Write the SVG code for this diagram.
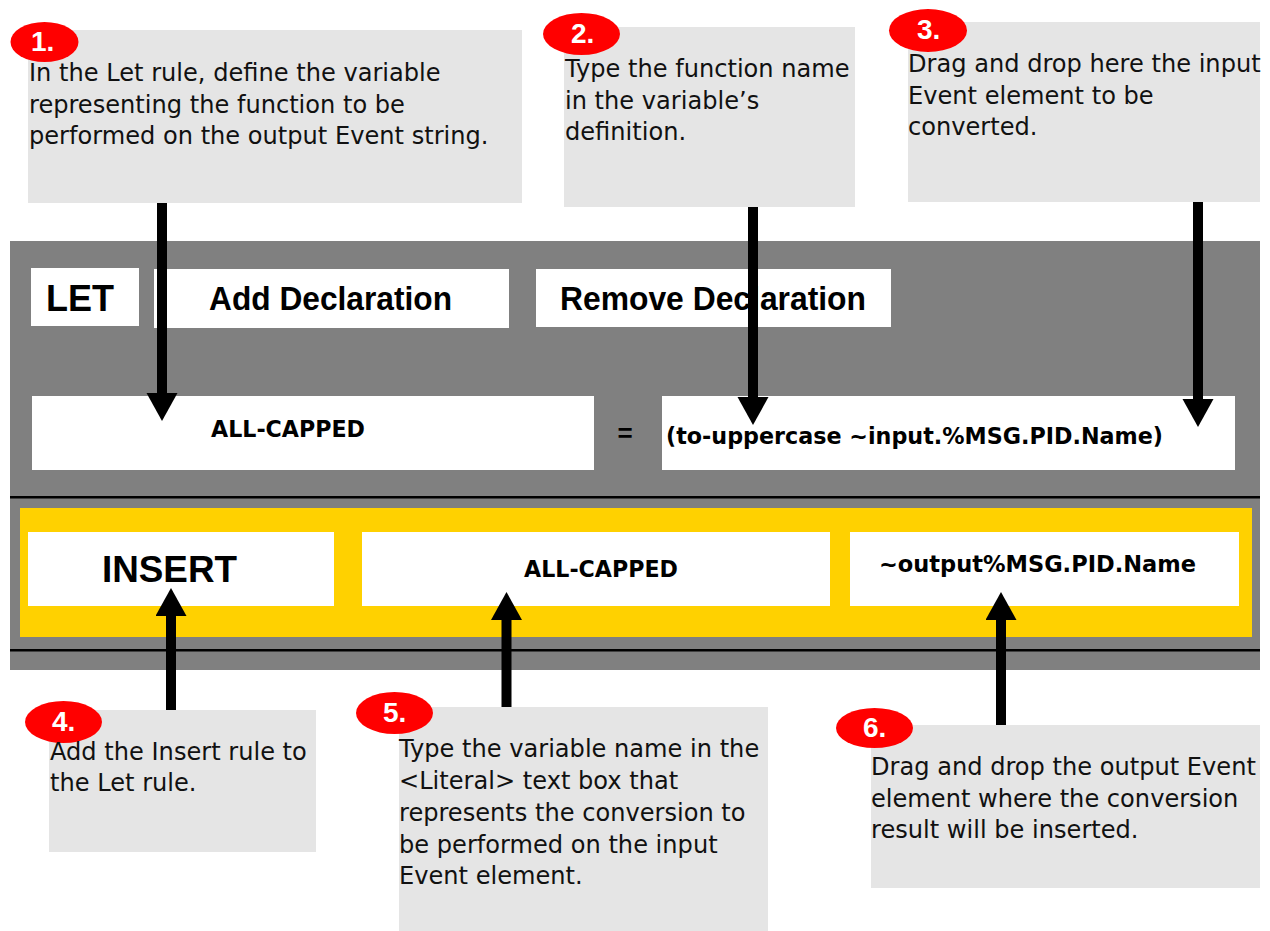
<svg xmlns="http://www.w3.org/2000/svg" width="1270" height="931" viewBox="0 0 1270 931">
<style>
.note{fill:#e5e5e5}
.badge{fill:#ff0000}
.num{font-family:"Liberation Sans",Arial,sans-serif;font-weight:bold;font-size:28px;fill:#ffffff}
.body{font-family:"DejaVu Sans","Noto Sans",sans-serif;font-size:24.1px;fill:#111111}
.ui{font-family:"Liberation Sans",Arial,sans-serif;font-weight:bold;fill:#000000}
.val{font-family:"DejaVu Sans","Noto Sans",sans-serif;font-weight:bold;font-size:23px;fill:#000000}
.white{fill:#ffffff}
.conn{stroke:#000000;stroke-width:10;fill:none;marker-end:url(#head)}
</style>
<defs>
<marker id="head" markerUnits="userSpaceOnUse" markerWidth="29" markerHeight="32" refX="0" refY="15.5" orient="auto" viewBox="0 0 29 32">
<path d="M0,0 L28,15.5 L0,31 z" fill="#000000"/>
</marker>
</defs>
<rect width="1270" height="931" fill="#ffffff"/>

<g id="let-panel">
<rect x="10" y="241" width="1250" height="429" fill="#808080"/>
<rect x="10" y="496" width="1250" height="2.5" fill="#000000"/>
<rect x="10" y="649" width="1250" height="2.5" fill="#000000"/>
</g>

<g id="let-button">
<rect class="white" x="31" y="268" width="108" height="58"/>
<text class="ui" x="46" y="311" font-size="36" textLength="68" lengthAdjust="spacingAndGlyphs">LET</text>
</g>
<g id="add-declaration">
<rect class="white" x="154" y="269" width="355" height="59"/>
<text class="ui" x="209" y="310" font-size="34" textLength="243" lengthAdjust="spacingAndGlyphs">Add Declaration</text>
</g>
<g id="remove-declaration">
<rect class="white" x="536" y="269" width="355" height="58"/>
<text class="ui" x="560" y="310" font-size="34" textLength="306" lengthAdjust="spacingAndGlyphs">Remove Declaration</text>
</g>
<g id="variable-name">
<rect class="white" x="32" y="396" width="562" height="74"/>
<text class="val" x="211" y="437" textLength="154" lengthAdjust="spacingAndGlyphs">ALL-CAPPED</text>
</g>
<g id="equals">
<text class="ui" x="625" y="442" font-size="26" text-anchor="middle">=</text>
</g>
<g id="variable-definition">
<rect class="white" x="662" y="396" width="573" height="74"/>
<text class="val" x="666" y="444" textLength="497" lengthAdjust="spacingAndGlyphs">(to-uppercase ~input.%MSG.PID.Name)</text>
</g>

<g id="insert-panel">
<rect x="20" y="508" width="1232" height="129" fill="#ffd100"/>
</g>
<g id="insert-button">
<rect class="white" x="28" y="532" width="306" height="74"/>
<text class="ui" x="102" y="582" font-size="37" textLength="135" lengthAdjust="spacingAndGlyphs">INSERT</text>
</g>
<g id="literal">
<rect class="white" x="362" y="532" width="468" height="74"/>
<text class="val" x="524" y="577" textLength="154" lengthAdjust="spacingAndGlyphs">ALL-CAPPED</text>
</g>
<g id="output-element">
<rect class="white" x="850" y="532" width="389" height="74"/>
<text class="val" x="879" y="572" textLength="317" lengthAdjust="spacingAndGlyphs">~output%MSG.PID.Name</text>
</g>

<g id="note-1">
<rect class="note" x="28" y="30" width="494" height="173"/>
<ellipse class="badge" cx="44.5" cy="42" rx="34" ry="20"/>
<text class="num" x="31" y="51">1.</text>
<text class="body"><tspan x="29" y="81">In the Let rule, define the variable</tspan><tspan x="29" y="112.5">representing the function to be</tspan><tspan x="29" y="144">performed on the output Event string.</tspan></text>
</g>
<g id="note-2">
<rect class="note" x="564" y="27" width="291" height="180"/>
<ellipse class="badge" cx="581.5" cy="34" rx="38.5" ry="21"/>
<text class="num" x="571" y="43">2.</text>
<text class="body"><tspan x="565" y="77">Type the function name</tspan><tspan x="565" y="108.5">in the variable’s</tspan><tspan x="565" y="140">definition.</tspan></text>
</g>
<g id="note-3">
<rect class="note" x="908" y="22" width="352" height="180"/>
<ellipse class="badge" cx="928" cy="30.5" rx="39" ry="21.5"/>
<text class="num" x="917" y="39">3.</text>
<text class="body"><tspan x="908" y="72">Drag and drop here the input</tspan><tspan x="908" y="103.5">Event element to be</tspan><tspan x="908" y="135">converted.</tspan></text>
</g>
<g id="note-4">
<rect class="note" x="49" y="710" width="267" height="142"/>
<ellipse class="badge" cx="63.5" cy="722" rx="38.5" ry="21"/>
<text class="num" x="52" y="731">4.</text>
<text class="body"><tspan x="50" y="760">Add the Insert rule to</tspan><tspan x="50" y="791">the Let rule.</tspan></text>
</g>
<g id="note-5">
<rect class="note" x="399" y="707" width="369" height="224"/>
<ellipse class="badge" cx="394.5" cy="713" rx="38.5" ry="21"/>
<text class="num" x="383" y="722">5.</text>
<text class="body"><tspan x="399" y="757">Type the variable name in the</tspan><tspan x="399" y="789">&lt;Literal&gt; text box that</tspan><tspan x="399" y="821">represents the conversion to</tspan><tspan x="399" y="852.5">be performed on the input</tspan><tspan x="399" y="884">Event element.</tspan></text>
</g>
<g id="note-6">
<rect class="note" x="871" y="725" width="389" height="163"/>
<ellipse class="badge" cx="874.5" cy="728" rx="38.5" ry="20"/>
<text class="num" x="863" y="737">6.</text>
<text class="body"><tspan x="871" y="775">Drag and drop the output Event</tspan><tspan x="871" y="807">element where the conversion</tspan><tspan x="871" y="838">result will be inserted.</tspan></text>
</g>

<g id="connectors">
<line class="conn" x1="162" y1="203" x2="162" y2="393"/>
<line class="conn" x1="753" y1="207" x2="753" y2="397"/>
<line class="conn" x1="1198" y1="202" x2="1198" y2="399"/>
<line class="conn" x1="171" y1="710" x2="171" y2="616"/>
<line class="conn" x1="506.5" y1="707" x2="506.5" y2="620"/>
<line class="conn" x1="1001" y1="725" x2="1001" y2="620"/>
</g>
</svg>
